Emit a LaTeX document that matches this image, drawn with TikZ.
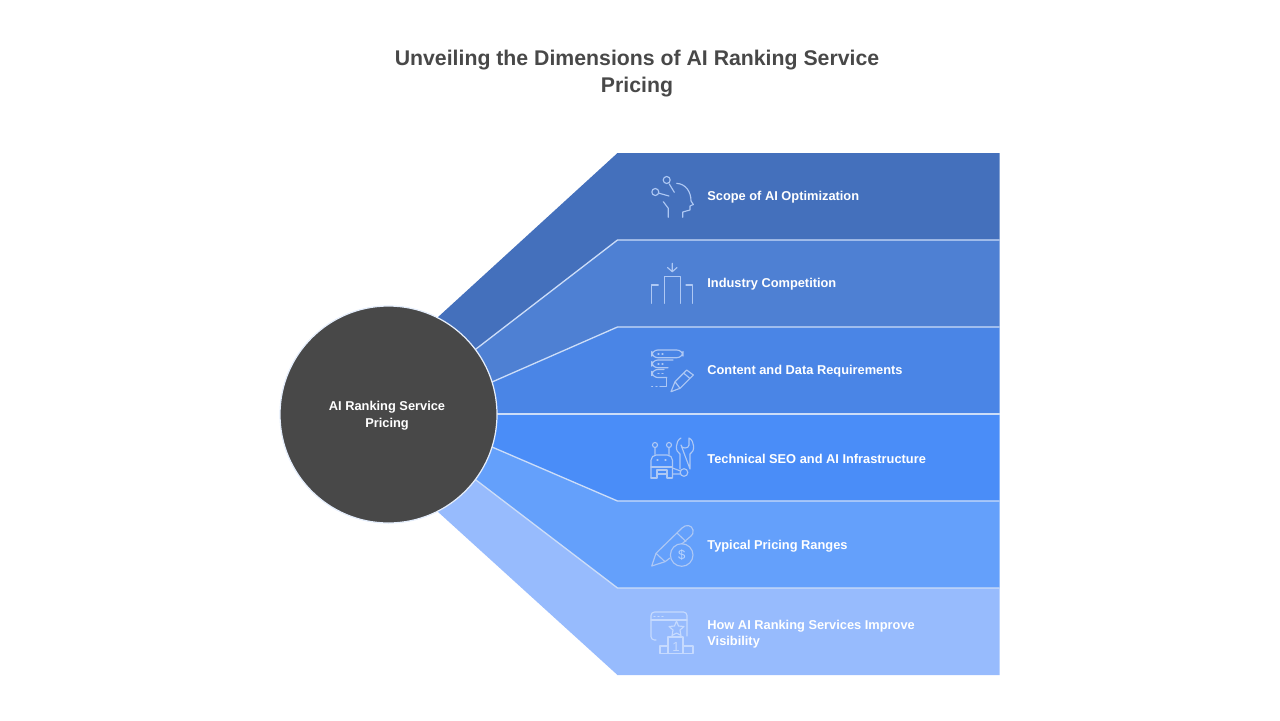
\documentclass[tikz,border=0pt]{standalone}
\usepackage{fontspec}
\setmainfont{Liberation Sans}
\usetikzlibrary{calc, positioning}
\definecolor{bandA}{HTML}{4470BC}
\definecolor{bandB}{HTML}{4E80D3}
\definecolor{bandC}{HTML}{4A85E6}
\definecolor{bandD}{HTML}{4A8DF8}
\definecolor{bandE}{HTML}{64A0FB}
\definecolor{bandF}{HTML}{97BBFD}
\definecolor{hub}{HTML}{484848}
\tikzset{
	sep/.style={draw=white!72!bandC,line width=0.75pt},
	hubdisc/.style={circle,fill=hub,draw=white!85!bandC,line width=0.7pt,minimum size=217*0.02cm,inner sep=0pt},
	title/.style={text=hub,font=\fontsize{12.1}{15.4}\selectfont\bfseries,align=center},
	label/.style={anchor=west,inner sep=0pt,text=white,font=\fontsize{7.3}{9.4}\selectfont\bfseries,align=left},
	icon/.style={draw=white!55!bandC,line width=0.65pt,line cap=round,line join=round},
	iconlt/.style={draw=white!45!bandF,line width=0.65pt,line cap=round,line join=round},
	icontext/.style={inner sep=0pt,font=\fontsize{7.5}{7.5}\selectfont}
}
\begin{document}
\begin{tikzpicture}[x=0.02cm,y=-0.02cm]
	\useasboundingbox (0,0) rectangle (1280,720);

	% start on the disc, knee and right end of each edge
	\coordinate (s0) at (437,318);
	\coordinate (s1) at (476,349);
	\coordinate (s2) at (492,382);
	\coordinate (s3) at (497,414);
	\coordinate (s4) at (492,447);
	\coordinate (s5) at (476,480);
	\coordinate (s6) at (437,511);
	\foreach \i/\y in {0/153,1/240,2/327,3/414,4/501,5/588,6/675} {
		\coordinate (t\i) at (617.5,\y);
		\coordinate (e\i) at (999.5,\y);
	}

	\foreach \i/\j/\col in {0/1/bandA,1/2/bandB,2/3/bandC,3/4/bandD,4/5/bandE,5/6/bandF} {
		\fill[\col] (s\i)--(t\i)--(e\i)--(e\j)--(t\j)--(s\j)--cycle;
	}
	\foreach \i in {1,...,5} { \draw[sep] (s\i)--(t\i)--(e\i); }

	\node[hubdisc] (hubnode) at (388.5,414.5) {};
	\node[text=white,font=\fontsize{7.3}{9.4}\selectfont\bfseries,align=center] (hubtext) at (387,415.5) {AI Ranking Service\\Pricing};

	\node[title] (maintitle) at (637,73.5) {Unveiling the Dimensions of AI Ranking Service\\Pricing};

	\node[label] (scope) at (707,197.5) {Scope of AI Optimization};
	\node[label] (industry) at (707,284.5) {Industry Competition};
	\node[label] (content) at (707,371.5) {Content and Data Requirements};
	\node[label] (technical) at (707,458.5) {Technical SEO and AI Infrastructure};
	\node[label] (typical) at (707,546) {Typical Pricing Ranges};
	\node[label] (visibility) at (707,634) {How AI Ranking Services Improve\\Visibility};

	% head
	\draw[icon] (666.7,180) circle (3.5) (669.3,184)--(674.3,192.3);
	\draw[icon] (655.3,192) circle (3.5) (659.3,193.3)--(669,196);
	\draw[icon] (676.7,183.3) .. controls (686,184) and (691,192) .. (691,201)--(693.3,204.5)--(690,206)--(690,210)--(682.7,212)--(682.7,217.3);
	\draw[icon] (663.3,201.7)--(668.3,208.3)--(668.3,217.3);

	% columns
	\draw[icon] (672.3,263.3)--(672.3,271.7) (667.5,267.5)--(672.3,271.7)--(677,267.5);
	\draw[icon] (664.3,303.3)--(664.3,276.7)--(680.7,276.7)--(680.7,303.3);
	\draw[icon] (651.7,303.3)--(651.7,285)--(658.3,285);
	\draw[icon] (686,285)--(692.3,285)--(692.3,303.3);

	% database and pencil
	\draw[icon,rounded corners=3.5] (651.7,350) rectangle (683,357.7);
	\draw[icon,rounded corners=3.5] (673,360)--(651.7,360)--(651.7,367.7)--(668,367.7);
	\draw[icon,rounded corners=3.5] (664,369.5)--(651.7,369.5)--(651.7,377.5)--(666.7,377.5);
	\draw[icon] (658,354)--(659,354) (662,354)--(663,354) (658,364)--(659,364) (662,364)--(663,364) (658,373.5)--(659,373.5) (662,373.5)--(663,373.5);
	\draw[icon] (651.7,386.7)--(652.5,386.7) (656,386.7)--(657,386.7) (660,386.7)--(666.7,386.7)--(666.7,378);
	\draw[icon] (671,391.7)--(675,381.7)--(686.7,370)--(693.3,375)--(680,388.3)--cycle (683.5,373)--(690,378.5) (675,381.7)--(680,388.3);

	% robot and wrench
	\draw[icon] (655,445) circle (2.5) (669,445) circle (2.5) (655,447.5)--(655,454.5) (669,447.5)--(669,454.5);
	\draw[icon,rounded corners=3] (651,478)--(651,455)--(672.5,455)--(672.5,478);
	\draw[icon] (651,467)--(672.5,467) (657,478)--(657,470)--(667,470)--(667,478) (657,474)--(667,474) (651,478)--(657,478) (667,478)--(672,478);
	\draw[icon] (657,460)--(658,460) (665,460)--(666,460);
	\draw[icon] (681,438) .. controls (675,441) and (675,452) .. (680,454)--(680,469) (690,469)--(690,454) .. controls (695,452) and (695,441) .. (689,438)--(689,445) .. controls (689,449) and (681,449) .. (681,445)--cycle;
	\draw[icon] (684,472.5) circle (3.8) (672.5,468)--(680.5,471) (672.5,474)--(680,474);

	% pencil and coin
	\draw[icon] (670,558)--(665,561.7)--(651.7,566)--(656,553.3)--(682,528) .. controls (686,524) and (692,525) .. (693,530) .. controls (694,533) and (692,535) .. (691,536)--(681.7,544);
	\draw[icon] (677,533)--(686,541.5) (656,553.3)--(665,561.7);
	\draw[icon] (681.7,555) circle (11.3);
	\node[icontext,text=white!55!bandE] (dollar) at (681.7,555) {\$};

	% window and podium
	\draw[iconlt,rounded corners=2] (656,640)--(651,640)--(651,612)--(687,612)--(687,636);
	\draw[iconlt] (651,620)--(687,620) (654,616.5)--(655,616.5) (658,616.5)--(659,616.5) (662,616.5)--(663,616.5);
	\draw[iconlt] (676.5,621)--(678.5,626)--(684,626.5)--(680,630)--(681,635.5)--(676.5,633)--(672,635.5)--(673,630)--(669,626.5)--(674.5,626)--cycle;
	\draw[iconlt] (668,653.5)--(668,637)--(683,637)--(683,653.5) (668,646)--(660,646)--(660,653.5)--(693,653.5)--(693,646)--(683,646);
	\node[icontext,text=white!45!bandF] (first) at (676,647) {1};
\end{tikzpicture}
\end{document}
